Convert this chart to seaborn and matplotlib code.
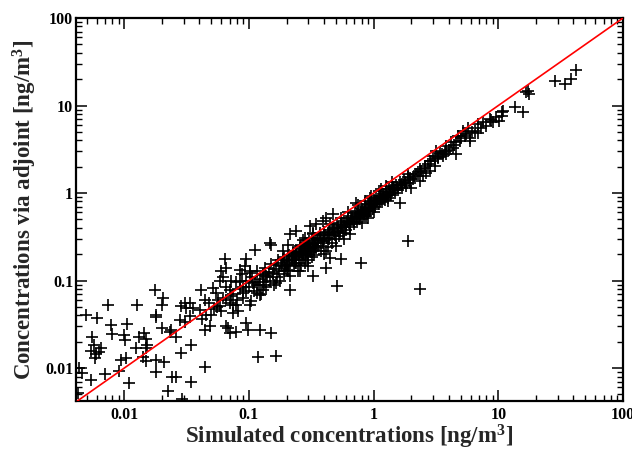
import numpy as np
import pandas as pd
import matplotlib
matplotlib.use("Agg")
import matplotlib.pyplot as plt
from matplotlib.ticker import NullFormatter, LogLocator
import seaborn as sns

# ---- data (ng/m3) ----
# lower-left scatter (simulated < 0.04)
sim_low = [0.0176, 0.0204, 0.0200, 0.0179, 0.0181, 0.0127, 0.0074, 0.00497, 0.0060, 0.0078,
           0.0105, 0.0200, 0.0236, 0.0080, 0.00995, 0.0101, 0.0144, 0.0150, 0.0131, 0.0123,
           0.0149, 0.0153, 0.00548, 0.00571, 0.00538, 0.00627, 0.00582, 0.00597, 0.00647, 0.00935,
           0.0103, 0.0140, 0.0149, 0.0179, 0.0208, 0.00434, 0.00461, 0.00538, 0.0070, 0.00908,
           0.0179, 0.0243, 0.0110, 0.0226, 0.00429, 0.0287, 0.0334, 0.0315, 0.0278, 0.0334,
           0.0231, 0.0262, 0.0345, 0.0287, 0.0262, 0.0345, 0.0292, 0.0305, 0.0356, 0.0305]
adj_low = [0.0785, 0.063, 0.053, 0.0406, 0.0378, 0.053, 0.052, 0.0406, 0.0372, 0.0312,
           0.0317, 0.029, 0.0274, 0.0244, 0.0236, 0.021, 0.025, 0.0216, 0.0229, 0.0171,
           0.0168, 0.0184, 0.0229, 0.0184, 0.0157, 0.0154, 0.0129, 0.0144, 0.0168, 0.0124,
           0.0129, 0.0132, 0.0121, 0.0124, 0.0118, 0.0099, 0.0087, 0.0073, 0.00847, 0.00927,
           0.0091, 0.00796, 0.0068, 0.00546, 0.00513, 0.0506, 0.0552, 0.0484, 0.0356, 0.0389,
           0.0255, 0.0229, 0.0184, 0.0148, 0.0078, 0.00698, 0.00437, 0.0552, 0.0484, 0.034]

# 0.04 - 0.1
sim_b = [0.0441, 0.0415, 0.0441, 0.0403, 0.0484, 0.0441, 0.0659, 0.070, 0.0792, 0.0953,
         0.0982, 0.0638, 0.0842, 0.0953, 0.0514, 0.0548, 0.0619, 0.0582, 0.070, 0.0745,
         0.0817, 0.0745, 0.0895, 0.0659, 0.060, 0.0582, 0.0455, 0.0679, 0.0895, 0.0792,
         0.0953, 0.0923, 0.0480, 0.0520, 0.0560, 0.0650, 0.0720, 0.0780, 0.0850, 0.0420,
         0.050, 0.055, 0.060, 0.065, 0.070, 0.075, 0.080, 0.085, 0.090, 0.095,
         0.062, 0.072, 0.088]
adj_b = [0.0104, 0.0787, 0.0604, 0.0464, 0.0299, 0.0273, 0.0299, 0.025, 0.0255, 0.0326,
         0.0274, 0.174, 0.133, 0.174, 0.082, 0.0719, 0.063, 0.0506, 0.0787, 0.053,
         0.0443, 0.0424, 0.0719, 0.139, 0.128, 0.098, 0.0406, 0.0286, 0.063, 0.053,
         0.098, 0.146, 0.055, 0.047, 0.060, 0.085, 0.066, 0.095, 0.080, 0.036,
         0.040, 0.050, 0.045, 0.060, 0.055, 0.070, 0.060, 0.100, 0.085, 0.075,
         0.110, 0.100, 0.120]

# 0.1 - 0.35, scattered
sim_c = [0.122, 0.151, 0.118, 0.166, 0.111, 0.147, 0.108, 0.115, 0.129, 0.101,
         0.138, 0.156, 0.166, 0.212, 0.200, 0.240, 0.187, 0.225, 0.255, 0.326,
         0.271, 0.326, 0.101, 0.115, 0.129, 0.122, 0.101, 0.151, 0.212, 0.240,
         0.307, 0.347, 0.206, 0.187, 0.263, 0.307, 0.347, 0.326, 0.280, 0.193,
         0.133, 0.1045, 0.255, 0.297]
adj_c = [0.0274, 0.025, 0.0135, 0.0138, 0.226, 0.269, 0.0936, 0.0719, 0.0787, 0.122,
         0.112, 0.122, 0.0936, 0.0787, 0.133, 0.159, 0.174, 0.207, 0.247, 0.112,
         0.294, 0.351, 0.053, 0.0897, 0.117, 0.0689, 0.128, 0.258, 0.336, 0.367,
         0.418, 0.438, 0.258, 0.216, 0.258, 0.216, 0.236, 0.336, 0.307, 0.146,
         0.0897, 0.0577, 0.128, 0.146]

# 0.1 - 0.35, dense band
sim_band1 = [0.100, 0.105, 0.110, 0.112, 0.115, 0.120, 0.122, 0.125, 0.130, 0.130,
             0.135, 0.138, 0.140, 0.145, 0.148, 0.150, 0.155, 0.158, 0.160, 0.165,
             0.168, 0.170, 0.175, 0.178, 0.180, 0.185, 0.190, 0.190, 0.195, 0.200,
             0.205, 0.210, 0.210, 0.215, 0.220, 0.225, 0.230, 0.232, 0.235, 0.240,
             0.245, 0.250, 0.250, 0.255, 0.260, 0.265, 0.270, 0.275, 0.280, 0.280,
             0.285, 0.290, 0.295, 0.300, 0.300, 0.305, 0.310, 0.315, 0.320, 0.320,
             0.325, 0.330, 0.335, 0.340, 0.345, 0.21, 0.23, 0.24, 0.26, 0.27,
             0.29, 0.31, 0.33, 0.34, 0.30, 0.28, 0.26, 0.24, 0.22, 0.20]
adj_band1 = [0.085, 0.110, 0.075, 0.095, 0.130, 0.088, 0.105, 0.070, 0.120, 0.095,
             0.140, 0.085, 0.110, 0.125, 0.100, 0.155, 0.118, 0.090, 0.135, 0.150,
             0.110, 0.170, 0.128, 0.100, 0.145, 0.160, 0.120, 0.185, 0.140, 0.165,
             0.130, 0.195, 0.150, 0.112, 0.175, 0.210, 0.145, 0.185, 0.160, 0.220,
             0.130, 0.195, 0.170, 0.235, 0.150, 0.205, 0.180, 0.250, 0.160, 0.220,
             0.190, 0.265, 0.235, 0.200, 0.170, 0.280, 0.245, 0.210, 0.185, 0.300,
             0.260, 0.225, 0.195, 0.310, 0.270, 0.17, 0.19, 0.17, 0.21, 0.20,
             0.22, 0.23, 0.25, 0.24, 0.26, 0.25, 0.23, 0.20, 0.19, 0.15]

# 0.35 - 2, dense band
sim_band2 = [0.35, 0.36, 0.37, 0.38, 0.40, 0.40, 0.42, 0.43, 0.44, 0.45,
             0.46, 0.48, 0.48, 0.50, 0.51, 0.52, 0.53, 0.55, 0.55, 0.57,
             0.58, 0.60, 0.60, 0.62, 0.63, 0.65, 0.66, 0.68, 0.70, 0.71,
             0.72, 0.74, 0.75, 0.77, 0.78, 0.80, 0.82, 0.83, 0.85, 0.86,
             0.88, 0.90, 0.92, 0.93, 0.95, 0.97, 0.98, 1.00, 1.02, 1.03,
             1.05, 1.07, 1.10, 1.12, 1.14, 1.16, 1.18, 1.20, 1.23, 1.25,
             1.28, 1.30, 1.33, 1.36, 1.38, 1.42, 1.45, 1.48, 1.52, 1.55,
             1.58, 1.62, 1.66, 1.70, 1.75, 1.78, 1.82, 1.87, 1.92, 1.97,
             0.45, 0.62, 0.85, 1.10, 1.40, 0.55, 0.75, 0.95, 1.25, 0.40,
             0.50, 0.65, 0.80, 1.00, 1.30, 0.58, 0.90, 0.36, 0.38, 0.39,
             0.41, 0.43, 0.44, 0.46, 0.47, 0.49, 0.52, 0.54, 0.56, 0.59,
             0.61, 0.64, 0.67, 0.69, 0.73, 0.76, 0.79, 0.84, 0.87, 0.91,
             0.96, 1.01, 1.06, 1.13, 1.19, 1.27, 1.35, 1.46, 1.56, 1.68,
             1.80, 1.95]
adj_band2 = [0.30, 0.25, 0.33, 0.22, 0.36, 0.28, 0.31, 0.24, 0.38, 0.33,
             0.27, 0.40, 0.35, 0.30, 0.43, 0.37, 0.32, 0.46, 0.40, 0.35,
             0.48, 0.43, 0.38, 0.52, 0.46, 0.41, 0.55, 0.49, 0.44, 0.59,
             0.53, 0.47, 0.62, 0.56, 0.50, 0.66, 0.60, 0.54, 0.70, 0.64,
             0.58, 0.74, 0.68, 0.62, 0.78, 0.72, 0.66, 0.84, 0.77, 0.70,
             0.88, 0.81, 0.74, 0.93, 0.86, 0.79, 0.98, 0.90, 0.83, 1.04,
             0.96, 0.88, 1.10, 1.02, 0.94, 1.17, 1.08, 1.00, 1.25, 1.15,
             1.07, 1.33, 1.22, 1.13, 1.42, 1.30, 1.20, 1.52, 1.40, 1.30,
             0.44, 0.60, 0.82, 1.05, 1.32, 0.52, 0.72, 0.92, 1.20, 0.20,
             0.25, 0.34, 0.45, 0.60, 0.80, 0.30, 0.52, 0.29, 0.30, 0.27,
             0.33, 0.35, 0.30, 0.36, 0.39, 0.33, 0.41, 0.36, 0.43, 0.41,
             0.47, 0.44, 0.52, 0.47, 0.57, 0.52, 0.61, 0.58, 0.67, 0.63,
             0.74, 0.70, 0.80, 0.80, 0.88, 0.92, 0.98, 1.10, 1.14, 1.28,
             1.34, 1.47]

# 0.35 - 2.5, scattered / outliers
sim_d = [0.392, 0.418, 0.392, 0.369, 0.418, 0.418, 0.444, 1.88, 0.551, 0.796,
         1.62, 0.472, 2.37, 0.508, 1.43, 1.15, 0.93, 0.726, 0.873]
adj_d = [0.477, 0.521, 0.282, 0.351, 0.139, 0.216, 0.181, 0.282, 0.177, 0.159,
         0.774, 0.570, 0.080, 0.0874, 1.15, 1.10, 0.883, 0.774, 0.544]

# 2 - 50
sim_hi = [10.6, 10.2, 9.05, 8.0, 7.53, 8.5, 6.87, 6.46, 5.7, 5.53,
          5.05, 5.89, 4.6, 4.2, 4.32, 3.83, 3.38, 3.6, 3.28, 2.99,
          2.81, 3.08, 2.56, 2.34, 2.65, 2.2, 2.07, 2.34, 2.0, 2.48,
          2.81, 3.83, 4.74, 5.2, 42.2, 38.5, 34.0, 28.3, 17.3, 17.6,
          16.8, 13.5, 15.7, 10.8, 10.6, 3.18, 4.6, 3.83, 6.87, 5.89,
          1.88, 2.1, 2.25, 2.4, 2.6, 2.75, 2.9, 3.1, 3.3, 3.5,
          3.7, 4.0, 4.4, 4.9, 5.4, 6.2, 7.2, 8.8, 9.5]
adj_hi = [8.33, 6.7, 6.4, 5.86, 6.4, 7.0, 6.14, 5.14, 5.6, 4.71,
          4.3, 3.95, 3.78, 3.78, 3.3, 3.03, 2.9, 2.66, 2.54, 2.66,
          2.33, 2.04, 2.04, 1.87, 1.71, 1.64, 1.44, 1.37, 1.15, 1.57,
          1.79, 3.46, 4.5, 5.14, 25.5, 20.1, 17.7, 18.9, 14.8, 13.6,
          14.1, 9.5, 8.34, 8.7, 7.64, 3.03, 2.78, 2.78, 4.79, 4.3,
          1.64, 1.55, 1.75, 1.8, 1.95, 2.15, 2.3, 2.45, 2.6, 2.8,
          2.95, 3.1, 3.5, 3.9, 4.5, 5.0, 5.6, 6.9, 7.3]

sim = sim_low + sim_b + sim_c + sim_band1 + sim_band2 + sim_d + sim_hi
adj = adj_low + adj_b + adj_c + adj_band1 + adj_band2 + adj_d + adj_hi
df = pd.DataFrame({"sim": sim, "adj": adj})

x_ticks = [0.01, 0.1, 1, 10, 100]
x_labels = ["0.01", "0.1", "1", "10", "100"]
y_ticks = [0.01, 0.1, 1, 10, 100]
y_labels = ["0.01", "0.1", "1", "10", "100"]

# ---- style ----
sns.set_style("ticks")
plt.rcParams["font.family"] = ["Liberation Serif", "DejaVu Serif"]
plt.rcParams["font.weight"] = "bold"
plt.rcParams["mathtext.fontset"] = "custom"
plt.rcParams["mathtext.rm"] = "Liberation Serif:bold"
plt.rcParams["mathtext.it"] = "Liberation Serif:bold"
plt.rcParams["mathtext.bf"] = "Liberation Serif:bold"

fig = plt.figure(figsize=(6.32, 4.5), dpi=100)
ax = fig.add_axes([0.1203, 0.1089, 0.8655, 0.8511])

sns.scatterplot(data=df, x="sim", y="adj", marker="+", color="black",
                s=75, linewidth=1.2, ax=ax, zorder=2, legend=False)
ax.set_xscale("log")
ax.set_yscale("log")
ax.set_xlim(0.0041, 100)
ax.set_ylim(0.0042, 100)
ax.axline((1, 1), (10, 10), color="red", lw=1.2, zorder=3)

ax.set_xticks(x_ticks, labels=x_labels)
ax.set_yticks(y_ticks, labels=y_labels)
ax.xaxis.set_minor_locator(LogLocator(base=10, subs=np.arange(2, 10)))
ax.yaxis.set_minor_locator(LogLocator(base=10, subs=np.arange(2, 10)))
ax.xaxis.set_minor_formatter(NullFormatter())
ax.yaxis.set_minor_formatter(NullFormatter())

ax.tick_params(which="both", direction="in", top=True, right=True, colors="black")
ax.tick_params(which="major", length=8, width=1.1, labelsize=11.5)
ax.tick_params(which="minor", length=4, width=1.0)
ax.tick_params(axis="x", which="major", pad=4)
ax.tick_params(axis="y", which="major", pad=2)
for lab in ax.get_xticklabels() + ax.get_yticklabels():
    lab.set_fontweight("bold")
for sp in ax.spines.values():
    sp.set_linewidth(1.6)
    sp.set_color("black")

ax.set_xlabel("Simulated concentrations [ng/m$^{3}$]", fontsize=16.5,
              fontweight="bold", labelpad=0)
ax.set_ylabel("Concentrations via adjoint [ng/m$^{3}$]", fontsize=16.5,
              fontweight="bold", labelpad=4)

fig.savefig("out.png", dpi=100)
